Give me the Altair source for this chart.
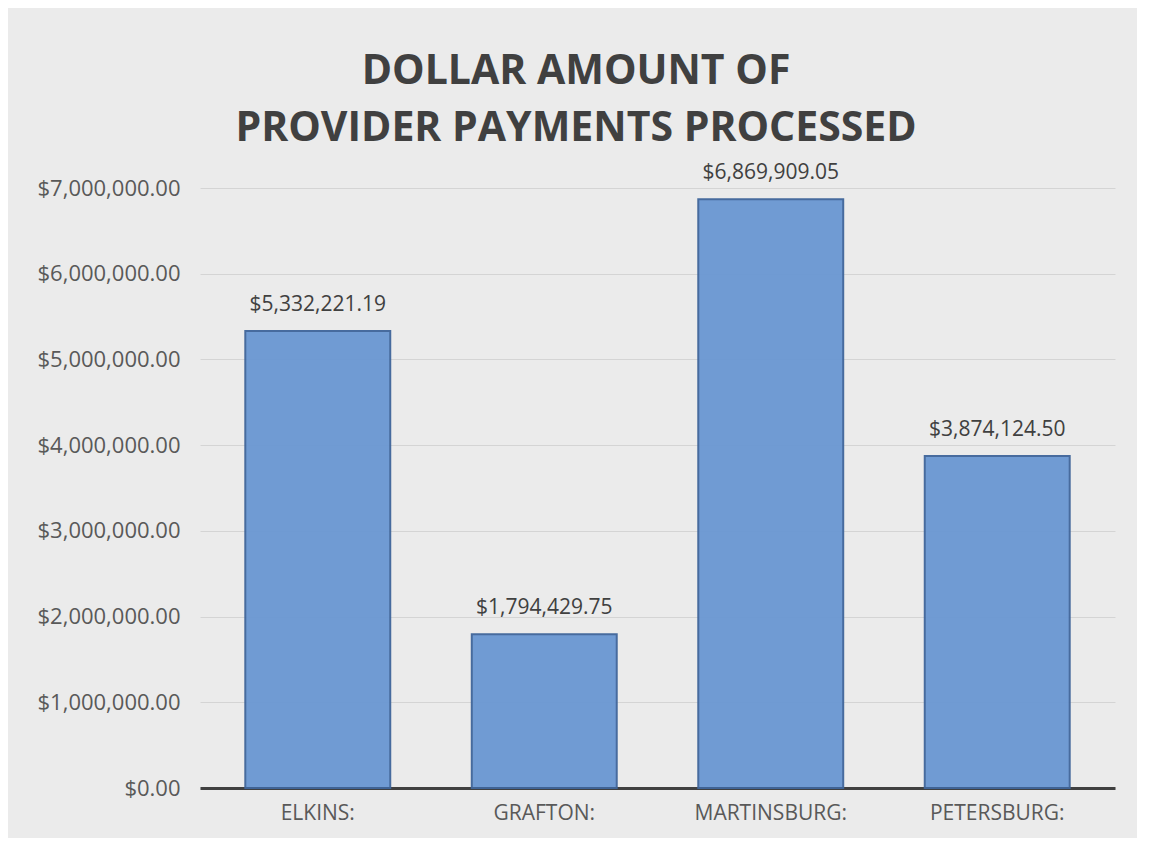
import altair as alt
import pandas as pd

categories = ["ELKINS:", "GRAFTON:", "MARTINSBURG:", "PETERSBURG:"]
values = [5332221.19, 1794429.75, 6869909.05, 3874124.50]
labels = ["$5,332,221.19", "$1,794,429.75", "$6,869,909.05", "$3,874,124.50"]
y_ticks = [0, 1000000, 2000000, 3000000, 4000000, 5000000, 6000000, 7000000]

df = pd.DataFrame({"cat": categories, "value": values, "label": labels})

FONT = "Open Sans"

x = alt.X("cat:N", sort=categories, title=None,
          scale=alt.Scale(paddingInner=0.36, paddingOuter=0.2),
          axis=alt.Axis(labelAngle=0, labelFont=FONT, labelFontSize=21,
                        labelColor="#595959", labelPadding=14, ticks=False,
                        domainColor="#404040", domainWidth=3, grid=False))
y = alt.Y("value:Q", title=None,
          scale=alt.Scale(domain=[0, 7000000], nice=False),
          axis=alt.Axis(values=y_ticks, format="$,.2f", labelFont=FONT,
                        labelFontSize=22, labelColor="#595959", labelPadding=20,
                        ticks=False, domain=False, gridColor="#d4d4d4",
                        gridWidth=1))

bars = alt.Chart(df).mark_bar(color="#6a97d2", stroke="#3f659a",
                              strokeWidth=2, opacity=0.95).encode(x=x, y=y)

text = alt.Chart(df).mark_text(dy=-16, baseline="bottom", font=FONT,
                               fontSize=21, color="#404040").encode(
    x=alt.X("cat:N", sort=categories), y="value:Q", text="label:N")

chart = alt.layer(bars, text).properties(
    width=915, height=600,
    autosize=alt.AutoSizeParams(type="none"),
    padding={"left": 192, "top": 180, "right": 22, "bottom": 50},
    background="#ebebeb",
    title=alt.TitleParams(
        ["DOLLAR AMOUNT OF", "PROVIDER PAYMENTS PROCESSED"],
        font=FONT, fontSize=41, fontWeight="bold", color="#404040",
        lineHeight=57, anchor="middle", frame="bounds", offset=12)
).configure_view(stroke=None)

chart.save("out.html", embed_options={"renderer": "svg", "actions": False})
